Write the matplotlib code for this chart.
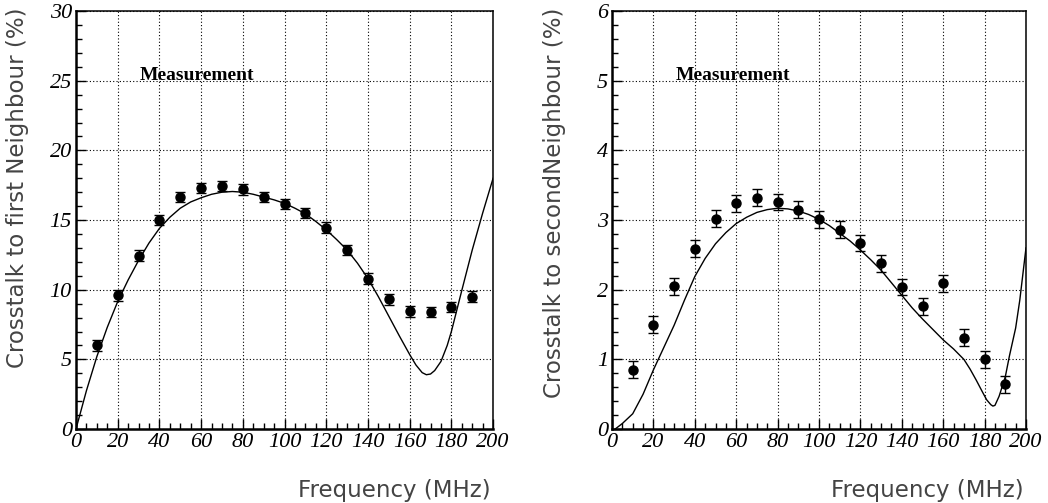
import numpy as np
import matplotlib
matplotlib.use("Agg")
import matplotlib.pyplot as plt
from matplotlib.ticker import MultipleLocator

# measured points (frequency in MHz, crosstalk in %)
freq = [10, 20, 30, 40, 50, 60, 70, 80, 90, 100, 110, 120, 130, 140, 150, 160, 170, 180, 190]
xt_first = [6.0, 9.6, 12.45, 15.0, 16.65, 17.3, 17.45, 17.2, 16.65, 16.15, 15.5, 14.45, 12.85,
            10.8, 9.3, 8.45, 8.4, 8.75, 9.5]
err_first = [0.38] * len(freq)
xt_second = [0.85, 1.5, 2.05, 2.59, 3.02, 3.24, 3.32, 3.26, 3.15, 3.01, 2.86, 2.67, 2.38,
             2.04, 1.76, 2.09, 1.31, 1.0, 0.64]
err_second = [0.12] * len(freq)

# fitted curves
fit1_x = [0, 5, 10, 15, 20, 25, 30, 35, 40, 45, 50, 55, 60, 65, 70, 75, 80, 85, 90, 95, 100,
          105, 110, 115, 120, 125, 130, 135, 140, 145, 150, 155, 160, 163, 166, 168, 170, 172,
          175, 178, 180, 185, 190, 195, 200]
fit1_y = [0.0, 2.75, 5.2, 7.3, 9.15, 10.7, 12.1, 13.35, 14.4, 15.2, 15.85, 16.3, 16.6, 16.85,
          17.0, 17.05, 17.0, 16.85, 16.65, 16.45, 16.2, 15.85, 15.45, 14.9, 14.3, 13.6, 12.85,
          11.9, 10.8, 9.5, 8.1, 6.7, 5.35, 4.6, 4.05, 3.9, 3.95, 4.2, 4.85, 6.0, 7.0, 9.95,
          12.85, 15.5, 18.0]
fit2_x = [1.5, 5, 10, 15, 20, 25, 30, 35, 40, 45, 50, 55, 60, 65, 70, 75, 80, 85, 90, 95, 100,
          105, 110, 115, 120, 125, 130, 135, 140, 145, 150, 155, 160, 165, 170, 173, 176, 179,
          181, 183, 184, 185, 187, 190, 192, 195, 197, 200]
fit2_y = [0.0, 0.08, 0.22, 0.5, 0.85, 1.17, 1.49, 1.85, 2.19, 2.45, 2.66, 2.82, 2.95, 3.04,
          3.11, 3.15, 3.17, 3.16, 3.13, 3.08, 3.01, 2.92, 2.81, 2.7, 2.57, 2.43, 2.28, 2.1,
          1.92, 1.74, 1.58, 1.43, 1.28, 1.15, 1.0, 0.86, 0.7, 0.53, 0.42, 0.35, 0.33, 0.34,
          0.47, 0.75, 1.05, 1.45, 1.85, 2.6]

panels = [
    dict(y=xt_first, e=err_first, fx=fit1_x, fy=fit1_y, ymax=30, major=5, minor=1,
         ylabel="Crosstalk to first Neighbour (%)", rect=[0.0725, 0.147, 0.398, 0.831]),
    dict(y=xt_second, e=err_second, fx=fit2_x, fy=fit2_y, ymax=6, major=1, minor=0.2,
         ylabel="Crosstalk to secondNeighbour (%)", rect=[0.584, 0.147, 0.395, 0.831]),
]

fig = plt.figure(figsize=(10.48, 5.03), dpi=100)
tick_font = dict(family="Liberation Serif", style="italic", size=16)
label_font = dict(family="DejaVu Sans", size=16.5, color="#444444")

for p in panels:
    ax = fig.add_axes(p["rect"])
    ax.plot(p["fx"], p["fy"], color="black", lw=1.0, zorder=3)
    ax.errorbar(freq, p["y"], yerr=p["e"], fmt="o", color="black", ms=6.5,
                elinewidth=1.0, capsize=3.5, capthick=1.0, zorder=4)
    ax.set_xlim(0, 200)
    ax.set_ylim(0, p["ymax"])
    ax.xaxis.set_major_locator(MultipleLocator(20))
    ax.xaxis.set_minor_locator(MultipleLocator(5))
    ax.yaxis.set_major_locator(MultipleLocator(p["major"]))
    ax.yaxis.set_minor_locator(MultipleLocator(p["minor"]))
    ax.tick_params(which="both", direction="in", top=False, right=False, width=1.0)
    ax.tick_params(which="major", length=7, pad=3)
    ax.tick_params(which="minor", length=4)
    ax.grid(True, which="major", color="black", linestyle=(0, (1, 2)), lw=0.8)
    for lab in ax.get_xticklabels() + ax.get_yticklabels():
        lab.set(**tick_font)
    for s in ax.spines.values():
        s.set_linewidth(1.1)
    ax.spines["left"].set_linewidth(1.8)
    ax.spines["bottom"].set_linewidth(1.8)
    ax.text(30.5, p["ymax"] * 0.846, "Measurement", family="Liberation Serif",
            weight="bold", size=14, va="center", ha="left")

    left, bottom, width, height = p["rect"]
    fig.text(left - 58 / 1048, 0.985, p["ylabel"], rotation=90, ha="center", va="top",
             **label_font)
    fig.text(left + width - 2 / 1048, 13 / 503, "Frequency (MHz)", ha="right", va="center",
             **label_font)

fig.savefig("out.png", dpi=100)
